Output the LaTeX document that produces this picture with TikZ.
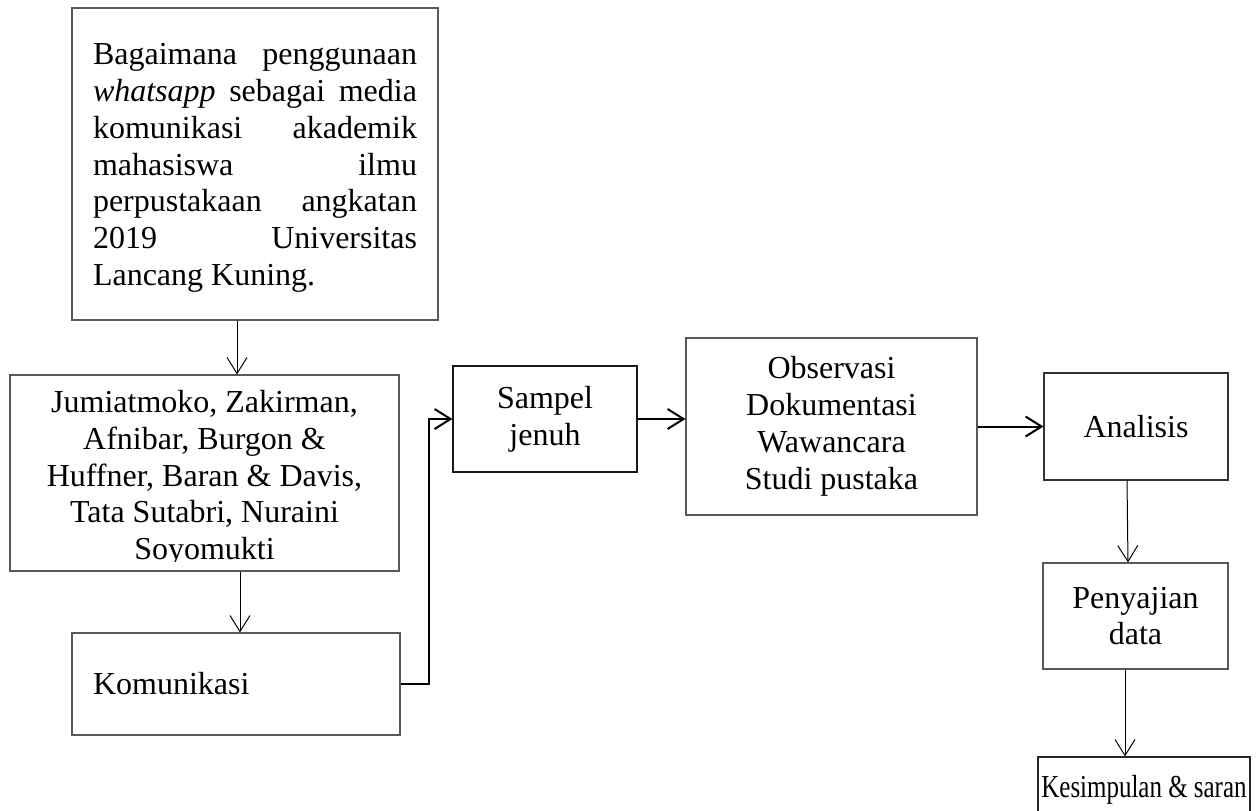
\documentclass[tikz,border=0pt]{standalone}
\usepackage{fontspec}
\usepackage{graphicx}
\setmainfont{Liberation Serif}
\usetikzlibrary{arrows.meta}
\begin{document}
\begin{tikzpicture}[x=1pt,y=-1pt,
  box/.style={draw=black!65, line width=1.1pt, rectangle, inner sep=0pt,
    font=\fontsize{32pt}{36.8pt}\selectfont, align=center},
  txt/.style={inner sep=0pt, font=\fontsize{32pt}{36.8pt}\selectfont},
  thinarrow/.style={draw=black, line width=1pt, -{Straight Barb[length=16pt,width=20pt]}},
  thickarrow/.style={draw=black, line width=2pt, -{Straight Barb[length=16pt,width=20pt]}}]
\useasboundingbox (0,0) rectangle (1259,811);
\fill[white] (0,0) rectangle (1259,811);
\clip (0,0) rectangle (1259,811);

\node[box, minimum width=366pt, minimum height=312pt] (q) at (255,164)
  {\parbox{324pt}{\vspace*{8pt}Bagaimana\hfill penggunaan\\
   \textit{whatsapp}\hfill sebagai\hfill media\\
   komunikasi\hfill akademik\\
   mahasiswa\hfill ilmu\\
   perpustakaan\hfill angkatan\\
   2019\hfill Universitas\\
   Lancang Kuning.}};

\node[box, minimum width=389pt, minimum height=196pt] (jum) at (204.5,473) {};
\begin{scope}
  \clip (jum.north west) rectangle ([yshift=10pt]jum.south east);
  \node[txt, anchor=base] (jumtxt) at ([yshift=-38pt]jum.north)
    {\parbox[t]{389pt}{\centering Jumiatmoko, Zakirman,\\Afnibar, Burgon \&\\Huffner, Baran \& Davis,\\Tata Sutabri, Nuraini\\Soyomukti}};
\end{scope}

\node[box, minimum width=328pt, minimum height=102pt, text width=286pt,
  inner xsep=21pt, align=left] (kom) at (236,684) {Komunikasi};

\node[box, draw=black!90, minimum width=184pt, minimum height=106pt] (sam) at (545,419) {Sampel\\jenuh};
\node[box, minimum width=291pt, minimum height=177pt] (obs) at (831.5,426.5)
  {Observasi\\Dokumentasi\\Wawancara\\Studi pustaka};
\node[box, draw=black!80, minimum width=184pt, minimum height=107pt] (ana) at (1136,426.5) {Analisis};
\node[box, minimum width=185pt, minimum height=106pt] (pen) at (1135.5,616) {Penyajian\\data};
\node[box, draw=black!85, minimum width=212pt, minimum height=65pt] (kes) at (1144,789.5)
  {\scalebox{0.78}[1]{Kesimpulan \& saran}};

\draw[thinarrow] ([xshift=-18pt]q.south) -- ([xshift=-18pt]q.south |- jum.north);
\draw[thinarrow] ([xshift=35.5pt]jum.south) -- ([xshift=35.5pt]jum.south |- kom.north);
\draw[thickarrow] (kom.east) -- ++(28,0) |- (sam.west);
\draw[thickarrow] (sam.east) -- (sam.east -| obs.west);
\draw[thickarrow] (obs.east) -- (obs.east -| ana.west);
\draw[thinarrow] ([xshift=-9pt]ana.south) -- ([xshift=-7.5pt]pen.north);
\draw[thinarrow] ([xshift=-10.5pt]pen.south) -- ([xshift=-10.5pt]pen.south |- kes.north);
\end{tikzpicture}
\end{document}
